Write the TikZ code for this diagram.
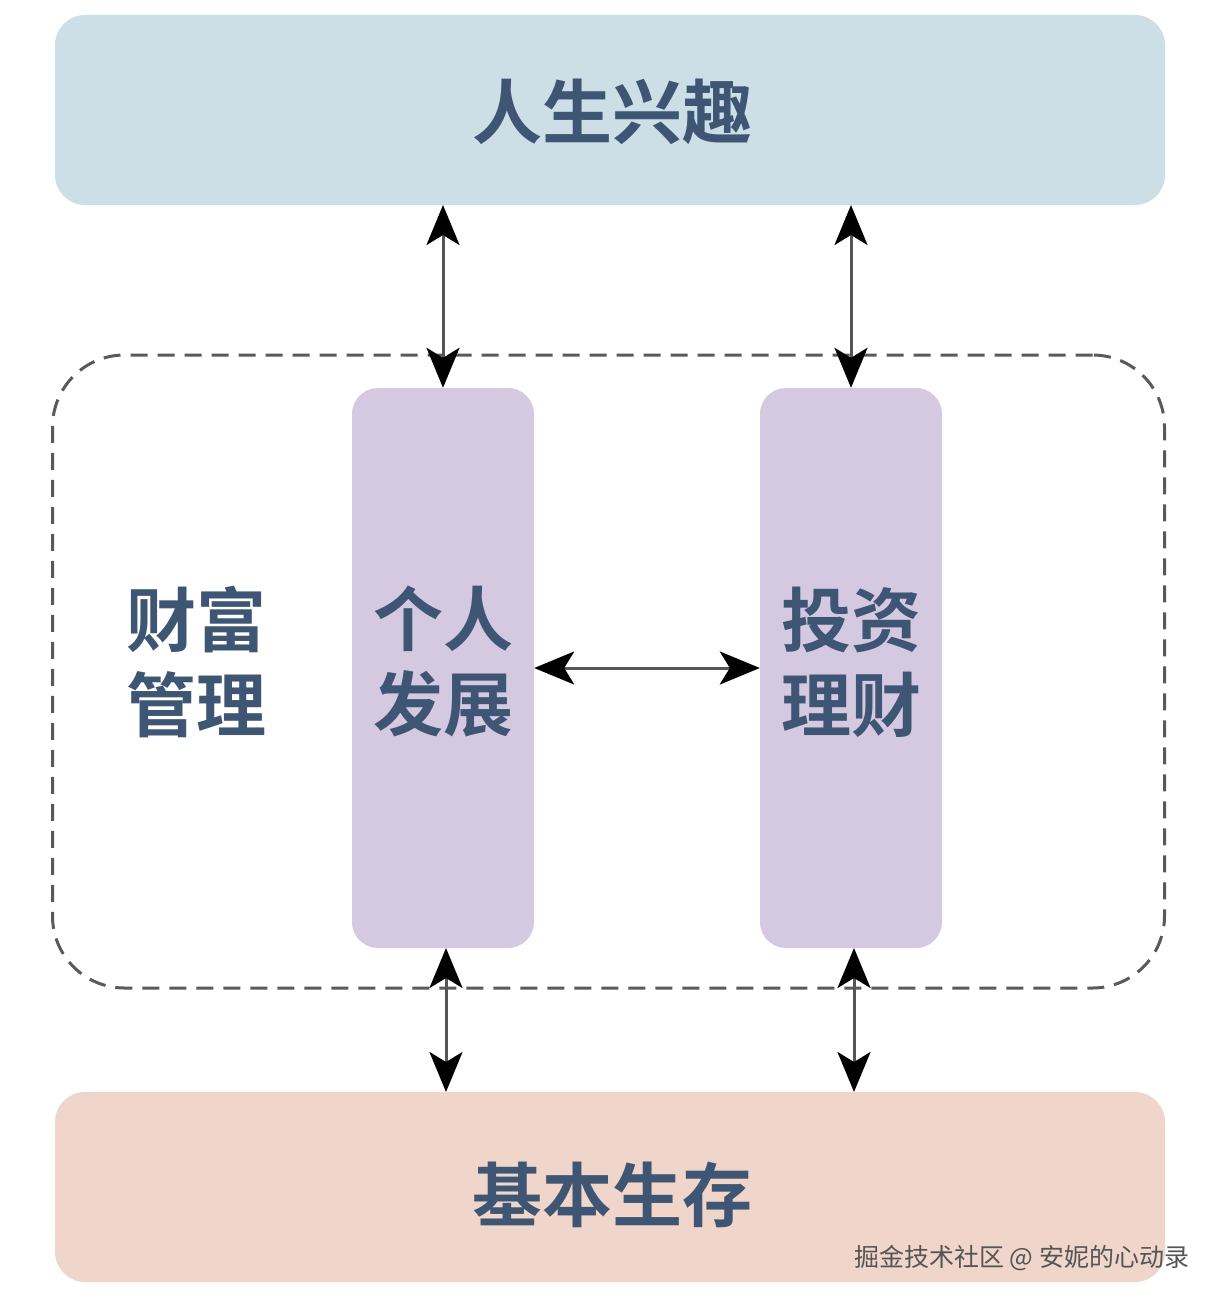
\documentclass[tikz,border=0pt]{standalone}
\usepackage{fontspec}
\newfontfamily\cjk{Noto Sans CJK SC}
\newfontfamily\cjkb{Noto Sans CJK SC Bold}
\usetikzlibrary{arrows.meta}
\definecolor{topfill}{HTML}{CCDFE6}
\definecolor{botfill}{HTML}{F0D6CA}
\definecolor{midfill}{HTML}{D5C9E2}
\definecolor{txt}{HTML}{3E5574}
\definecolor{dash}{HTML}{5A5A5A}
\definecolor{lin}{HTML}{555555}
\tikzset{
  bigbox/.style={fill=#1, rounded corners=30pt, minimum width=1110pt, minimum height=190pt, inner sep=0pt},
  colbox/.style={fill=midfill, rounded corners=26pt, minimum width=182pt, minimum height=560pt, inner sep=0pt},
  label/.style={text=txt, font=\cjkb\fontsize{70}{85}\selectfont, align=center, inner sep=0pt},
  biarrow/.style={draw=lin, line width=3pt, {Stealth[length=40pt,width=33pt,inset=10pt,fill=black,color=black]}-{Stealth[length=40pt,width=33pt,inset=10pt,fill=black,color=black]}},
  wm/.style={text=lin, font=\cjk\fontsize{25}{30}\selectfont, inner sep=0pt}
}
\begin{document}
\begin{tikzpicture}[x=1pt,y=-1pt]
\useasboundingbox[fill=white] (0,0) rectangle (1222,1306);
\node[bigbox=topfill] (top) at (610,110) {};
\node[label] (toptxt) at (612,112) {人生兴趣};
\node[bigbox=botfill] (bot) at (610,1187) {};
\node[label] (bottxt) at (612,1195) {基本生存};
\node[draw=dash, line width=3pt, dash pattern=on 17pt off 10pt, rounded corners=72pt, minimum width=1112pt, minimum height=633pt, inner sep=0pt] (wealth) at (608.5,671.5) {};
\node[label] (wtxt) at (196,662) {财富\\管理};
\node[colbox] (pd) at (443,668) {};
\node[label] (pdtxt) at (443,662) {个人\\发展};
\node[colbox] (inv) at (851,668) {};
\node[label] (invtxt) at (851,662) {投资\\理财};
\coordinate (t1) at (443,205);
\coordinate (t2) at (851,205);
\coordinate (b1) at (446,1092);
\coordinate (b2) at (854,1092);
\coordinate (p1) at (446,948);
\coordinate (p2) at (854,948);
\draw[biarrow] (t1) -- (pd.north);
\draw[biarrow] (t2) -- (inv.north);
\draw[biarrow] (p1) -- (b1);
\draw[biarrow] (p2) -- (b2);
\draw[biarrow] (pd.east |- 0,668) -- (inv.west |- 0,668);
\node[wm, anchor=west] (wmk) at (854,1258) {掘金技术社区 @ 安妮的心动录};
\end{tikzpicture}
\end{document}
